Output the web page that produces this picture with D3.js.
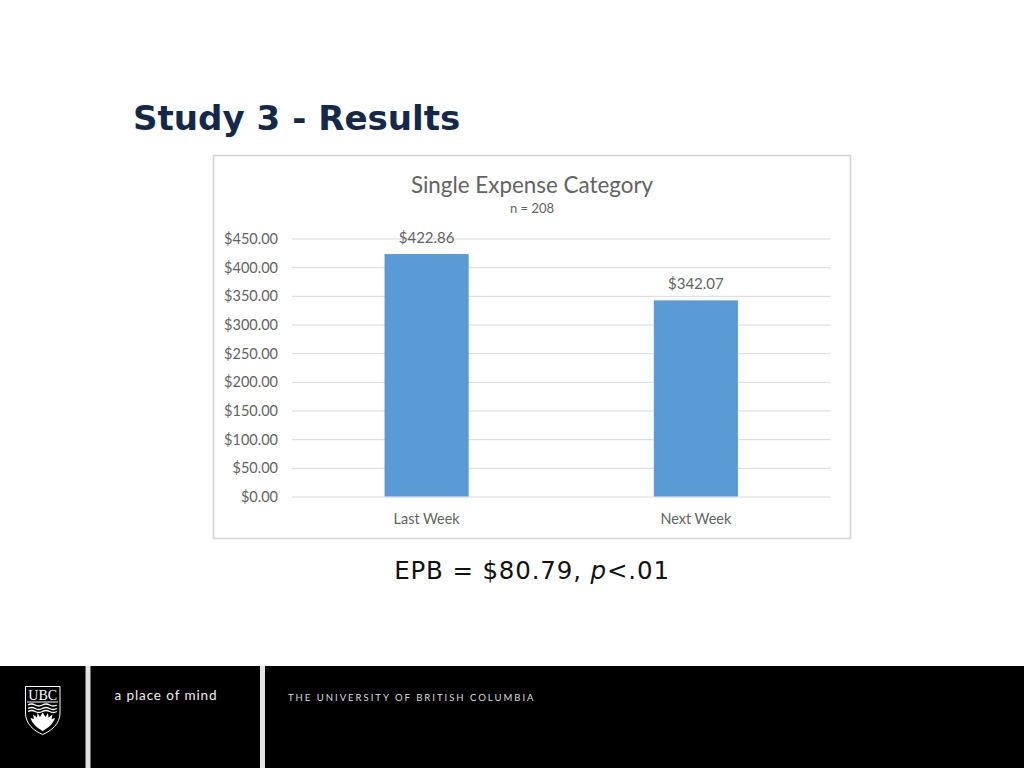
<!DOCTYPE html>
<html><head><meta charset="utf-8">
<script src="https://cdn.jsdelivr.net/npm/d3@7"></script>
<style>html,body{margin:0;padding:0;background:#fff;overflow:hidden}svg{display:block}</style>
</head><body><svg id="c" width="1024" height="768"></svg>
<script>
const categories = ["Last Week", "Next Week"];
const values = [422.86, 342.07];
const tickValues = [0, 50, 100, 150, 200, 250, 300, 350, 400, 450];
const slideTitle = "Study 3 - Results";
const chartTitle = "Single Expense Category";
const chartSubtitle = "n = 208";

const svg = d3.select("#c");
const chartFont = "Lato,'Open Sans',sans-serif";
svg.append("rect").attr("width",1024).attr("height",768).attr("fill","#fff");

svg.append("text").attr("x",133).attr("y",129.5).attr("font-family","'DejaVu Sans',Verdana,sans-serif")
  .attr("font-weight","bold").attr("font-size",34.1).attr("fill","#13294b").text(slideTitle);

svg.append("rect").attr("x",213.5).attr("y",155.5).attr("width",637).attr("height",383)
  .attr("fill","#fff").attr("stroke","#d4d4d4").attr("stroke-width",1.6);

svg.append("text").attr("x",532).attr("y",193).attr("text-anchor","middle").attr("font-family",chartFont)
  .attr("font-size",22.4).attr("fill","#636363").text(chartTitle);
svg.append("text").attr("x",532).attr("y",213).attr("text-anchor","middle").attr("font-family",chartFont)
  .attr("font-size",13).attr("fill","#636363").text(chartSubtitle);

const y = d3.scaleLinear().domain([0,450]).range([496.5,238.5]);
const x = d3.scaleBand().domain(categories).range([292,830.5]).paddingInner(0.6875).paddingOuter(0.34375);

const yAxis = d3.axisLeft(y).tickValues(tickValues).tickFormat(d=>"$"+d3.format(".2f")(d)).tickSize(0).tickPadding(14);
const gy = svg.append("g").attr("transform","translate(292,0.5)").call(yAxis);
gy.select(".domain").remove();
gy.selectAll("text").attr("font-family",chartFont).attr("font-size",14.5).attr("fill","#636363");
gy.selectAll(".tick").append("line").attr("x1",0).attr("x2",538.5).attr("y1",-0.5).attr("y2",-0.5).attr("stroke","#d9d9d9").attr("stroke-width",1);

svg.append("g").selectAll("rect").data(values).join("rect")
  .attr("x",(d,i)=>x(categories[i])).attr("width",x.bandwidth())
  .attr("y",d=>y(d)).attr("height",d=>y(0)-y(d)).attr("fill","#5b9bd5");

svg.append("g").selectAll("text").data(values).join("text")
  .attr("x",(d,i)=>x(categories[i])+x.bandwidth()/2).attr("y",d=>y(d)-11.5)
  .attr("text-anchor","middle").attr("font-family",chartFont).attr("font-size",15).attr("fill","#636363")
  .text(d=>"$"+d3.format(".2f")(d));

const gx = svg.append("g").attr("transform","translate(0,496.5)").call(d3.axisBottom(x).tickSize(0).tickPadding(17));
gx.select(".domain").remove();
gx.selectAll("text").attr("font-family",chartFont).attr("font-size",14.4).attr("fill","#636363");

const ann = svg.append("text").attr("x",532).attr("y",579).attr("text-anchor","middle")
  .attr("font-family","'DejaVu Sans',Verdana,sans-serif").attr("font-size",24.5).attr("letter-spacing",0.85).attr("fill","#111");
ann.append("tspan").text("EPB = $80.79, ");
ann.append("tspan").attr("font-style","italic").text("p");
ann.append("tspan").text("<.01");

// Footer
svg.append("rect").attr("x",0).attr("y",666).attr("width",1024).attr("height",102).attr("fill","#000");
[[85.5,5],[260,5]].forEach(([a,w])=>svg.append("rect").attr("x",a).attr("y",666).attr("width",w).attr("height",102).attr("fill","#e4e4e4"));
svg.append("text").attr("x",114.5).attr("y",700).attr("font-family","Lato,sans-serif").attr("font-size",13.5)
  .attr("letter-spacing",0.9).attr("fill","#eee").text("a place of mind");
svg.append("text").attr("x",288).attr("y",701).attr("font-family","Lato,sans-serif").attr("font-size",9.5)
  .attr("letter-spacing",2).attr("fill","#ddd").text("THE UNIVERSITY OF BRITISH COLUMBIA");

// UBC crest
const crest = svg.append("g").attr("transform","translate(25,686)");
crest.append("path").attr("d","M0.5,0.5H35V27C35,38 26,45 17.7,48.5C9,45 0.5,38 0.5,27Z").attr("fill","#000").attr("stroke","#fff").attr("stroke-width",1);
crest.append("text").attr("x",17.7).attr("y",14).attr("text-anchor","middle").attr("font-family","'Liberation Serif',serif").attr("font-size",14).attr("fill","#fff").text("UBC");
crest.append("rect").attr("x",2).attr("y",15.5).attr("width",31).attr("height",1).attr("fill","#fff");
[19,22.5,25.5].forEach(v=>crest.append("path").attr("d",`M3,${v}q3.6,-2 7.2,0t7.2,0t7.2,0t7.2,0`).attr("fill","none").attr("stroke","#fff").attr("stroke-width",1.3));
crest.append("path").attr("d","M5.5,32L9,33L8,28.5L12,31.5L12.5,27L15,31L17.7,26.5L20.5,31L23,27L23.5,31.5L27.5,28.5L26.5,33L30,32C28,38 23,42 17.7,45C12.5,42 7.5,38 5.5,32Z").attr("fill","#fff");
</script></body></html>
